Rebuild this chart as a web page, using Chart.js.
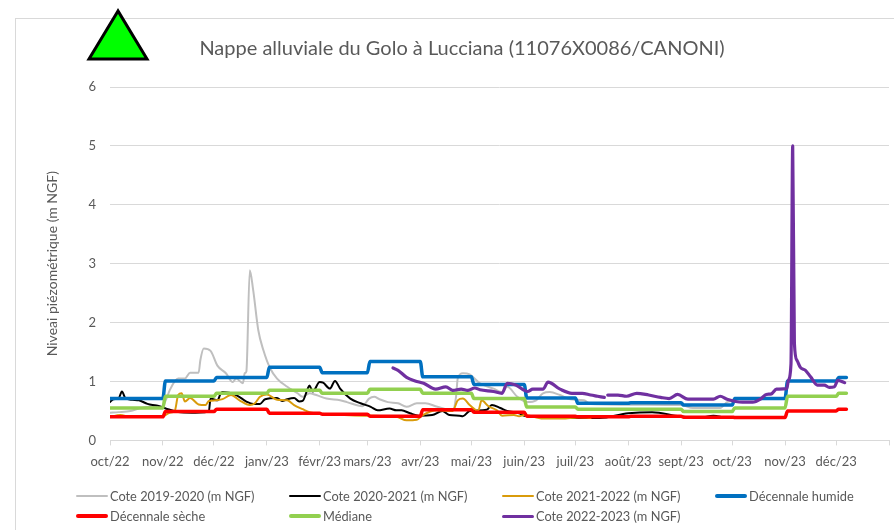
<!DOCTYPE html>
<html lang="fr">
<head>
<meta charset="utf-8">
<title>Nappe alluviale du Golo à Lucciana</title>
<script src="https://cdn.jsdelivr.net/npm/chart.js@4"></script>
<style>
html,body{margin:0;padding:0;background:#fff;overflow:hidden}
#wrap{position:relative;width:894px;height:530px;overflow:hidden;font-family:Lato,sans-serif}
#frame{position:absolute;left:15px;top:18px;width:900px;height:600px;border:1px solid #d9d9d9;box-sizing:border-box}
canvas{position:absolute;left:0;top:0}
#tri{position:absolute;left:0;top:0}
.lg{position:absolute;font-size:12.8px;line-height:14px;color:#595959;white-space:nowrap}
.sw{position:absolute;width:32px;border-radius:2px}
</style>
</head>
<body>
<div id="wrap">
<div id="frame"></div>
<canvas id="c" width="894" height="530"></canvas>
<svg id="tri" width="160" height="70"><polygon points="118,11 89,59 147,59" fill="#00ff00" stroke="#000" stroke-width="3"/></svg>
<div id="legend"></div>
</div>
<script>
const titleText = "Nappe alluviale du Golo à Lucciana (11076X0086/CANONI)";
const yTitle = "Niveai piézométrique (m NGF)";
const monthDays = [0,31,61,92,123,151,182,212,243,273,304,335,365,396,426,457];
const monthLabels = ["oct/22","nov/22","déc/22","janv/23","févr/23","mars/23","avr/23","mai/23","juin/23","juil/23","août/23","sept/23","oct/23","nov/23","déc/23",""];
const yTicks = [0,1,2,3,4,5,6];

const grayDays = [0,5,12,18,25,30,33,35,40,44,47,52,53,55,59,63,68,72,74,78,79,80,82,84,87,90,94,98,104,110,113,117,121,127,135,139,148,152,155,158,163,169,174,180,185,192,201,203,204,207,211,217,225,230,233,239,245,250,254,258,264,270,278,282,335,342,358,362,365];
const grayVals = [0.47,0.48,0.50,0.55,0.57,0.56,0.70,0.85,1.05,1.05,1.15,1.15,1.36,1.56,1.52,1.27,1.14,0.99,1.05,0.97,1.14,1.17,2.89,2.55,1.87,1.53,1.22,1.05,0.91,0.80,0.74,0.80,0.77,0.71,0.68,0.65,0.58,0.71,0.74,0.70,0.65,0.63,0.57,0.63,0.63,0.57,0.51,0.74,1.05,1.14,1.12,0.97,0.88,0.82,0.91,0.74,0.65,0.68,0.80,0.82,0.77,0.70,0.68,0.62,0.60,0.55,0.55,0.65,0.67];

const blackDays = [0,2,5,7,9,13,17,22,25,28,34,40,48,56,58,59,63,65,66,74,80,84,88,91,98,101,104,108,111,113,116,117,119,123,125,129,132,135,141,147,153,157,164,168,171,176,181,189,195,199,205,207,211,221,224,229,233,240,243,252,262,277,287,304,318,334,346,354,360];
const blackVals = [0.65,0.70,0.71,0.83,0.72,0.69,0.68,0.62,0.60,0.59,0.53,0.48,0.47,0.48,0.50,0.71,0.68,0.80,0.82,0.77,0.66,0.62,0.62,0.70,0.72,0.67,0.70,0.72,0.66,0.67,0.88,0.93,0.83,0.99,0.98,0.88,1.01,0.88,0.71,0.63,0.57,0.51,0.54,0.51,0.51,0.46,0.42,0.43,0.50,0.43,0.42,0.41,0.50,0.52,0.60,0.55,0.50,0.46,0.42,0.40,0.38,0.38,0.38,0.46,0.48,0.41,0.38,0.42,0.39];

const orangeDays = [0,6,12,31,35,38,40,42,44,47,52,56,58,62,66,71,76,82,85,88,92,98,104,108,113,117,127,150,168,174,180,183,192,201,204,207,211,216,218,222,227,230,237,240,243,254,265,275,282];
const orangeVals = [0.40,0.43,0.40,0.41,0.47,0.50,0.77,0.80,0.66,0.72,0.61,0.60,0.67,0.68,0.70,0.77,0.68,0.60,0.63,0.74,0.78,0.69,0.68,0.60,0.53,0.48,0.45,0.42,0.40,0.34,0.35,0.42,0.51,0.50,0.68,0.71,0.60,0.50,0.68,0.58,0.51,0.42,0.43,0.41,0.43,0.37,0.37,0.39,0.38];

const purpleDays = [166,169,174,179,184,191,197,201,206,210,214,217,225,230,233,238,245,248,254,257,264,271,277,282,286,290,291,292,298,303,309,316,323,328,333,339,354,358,362,371,377,382,385,388,391,397,398,399.5,400.5,401.5,403,405,408,411,415,419,422,425,427,431];
const purpleVals = [1.23,1.19,1.07,1.01,0.97,0.87,0.91,0.85,0.87,0.85,0.89,0.86,0.83,0.80,0.97,0.94,0.83,0.87,0.87,0.99,0.87,0.80,0.80,0.77,0.75,0.73,null,0.77,0.77,0.75,0.80,0.77,0.73,0.71,0.78,0.70,0.70,0.75,0.70,0.65,0.65,0.71,0.78,0.79,0.87,0.88,1.02,1.30,5.00,1.65,1.36,1.24,1.19,1.08,0.94,0.94,0.90,0.91,1.02,0.98];

const stepStarts = [0,31,61,92,123,151,182,212,243,273,304,335,365,396,426];
const stepEnd = 432;
const humideVals = [0.71,1.01,1.07,1.24,1.15,1.34,1.08,0.95,0.72,0.63,0.64,0.60,0.71,1.01,1.07];
const secheVals = [0.40,0.49,0.53,0.46,0.445,0.41,0.52,0.48,0.41,0.40,0.41,0.395,0.39,0.50,0.53];
const medianeVals = [0.55,0.75,0.80,0.85,0.80,0.87,0.80,0.71,0.565,0.53,0.53,0.49,0.55,0.75,0.80];

const names = ["Cote 2019-2020 (m NGF)","Cote 2020-2021 (m NGF)","Cote 2021-2022 (m NGF)","Décennale humide","Décennale sèche","Médiane","Cote 2022-2023 (m NGF)"];
const colors = ["#bfbfbf","#000000","#d99b0b","#0070c0","#ff0000","#92d050","#7030a0"];
const widths = [2,2,2,3.5,3.5,3.5,3.2];

function pairs(days, vals){ return days.map((d,i)=>({x:d,y:vals[i]})); }
function steps(vals){
  const out=[];
  stepStarts.forEach((s,i)=>{
    const e = i+1<stepStarts.length ? stepStarts[i+1] : stepEnd;
    out.push({x:s===0?0:s+1.5,y:vals[i]});
    out.push({x:e,y:vals[i]});
  });
  return out;
}
const seriesData = [pairs(grayDays,grayVals),pairs(blackDays,blackVals),pairs(orangeDays,orangeVals),steps(humideVals),steps(secheVals),steps(medianeVals),pairs(purpleDays,purpleVals)];

const font = "Lato, sans-serif";
new Chart(document.getElementById("c"),{
  type:"line",
  data:{datasets:names.map((n,i)=>({
    label:n,data:seriesData[i],borderColor:colors[i],backgroundColor:colors[i],
    borderWidth:widths[i],pointRadius:0,tension:0.15,fill:false,spanGaps:false,
    order:names.length-i,borderJoinStyle:"round",borderCapStyle:"round",
    cubicInterpolationMode:"monotone"
  }))},
  options:{
    responsive:false,animation:false,
    layout:{padding:{left:35,right:5,top:37,bottom:51}},
    plugins:{
      legend:{display:false},tooltip:{enabled:false},
      title:{display:true,text:titleText,color:"#595959",font:{family:font,size:20,weight:"normal"},padding:{top:0,bottom:26}}
    },
    scales:{
      x:{type:"linear",min:0,max:457,
        afterBuildTicks:s=>{s.ticks=monthDays.map(v=>({value:v}));},
        afterFit:s=>{s.paddingLeft=0;s.paddingRight=0;},
        grid:{drawOnChartArea:false,drawTicks:true,tickLength:5,color:"#d9d9d9"},
        border:{color:"#d9d9d9"},
        ticks:{autoSkip:false,maxRotation:0,minRotation:0,color:"#595959",padding:9,font:{family:font,size:13},
          callback:(v)=>monthLabels[monthDays.indexOf(v)]||""}
      },
      y:{min:0,max:6,
        afterBuildTicks:s=>{s.ticks=yTicks.map(v=>({value:v}));},
        afterFit:s=>{s.width=75;},
        grid:{color:"#d9d9d9",drawTicks:false},
        border:{display:false},
        ticks:{color:"#595959",padding:14,font:{family:font,size:13}},
        title:{display:true,text:yTitle,color:"#595959",font:{family:font,size:14,weight:"normal"},padding:{top:9,bottom:0}}
      }
    }
  }
});

const legendCols=[76,289,502,715], legendRows=[496,516];
const legendPlace=[[0,0],[1,0],[2,0],[3,0],[0,1],[1,1],[2,1]];
const lg=document.getElementById("legend");
names.forEach((n,i)=>{
  const [c,r]=legendPlace[i];
  const sw=document.createElement("div");sw.className="sw";
  const h=Math.round(widths[i]);
  sw.style.cssText=`left:${legendCols[c]}px;top:${legendRows[r]-h/2}px;height:${h}px;background:${colors[i]}`;
  const t=document.createElement("div");t.className="lg";t.textContent=n;
  t.style.cssText=`left:${legendCols[c]+34}px;top:${legendRows[r]-7}px`;
  lg.appendChild(sw);lg.appendChild(t);
});
</script>
</body>
</html>
